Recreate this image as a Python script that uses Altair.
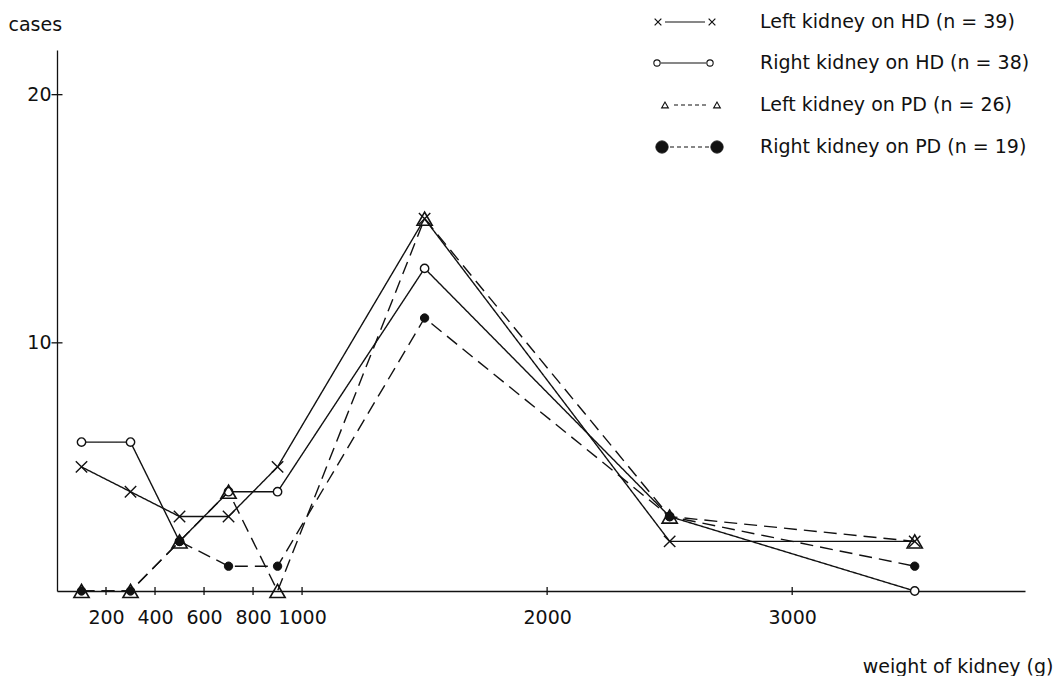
import altair as alt
import pandas as pd

# ---- data ----
weights = [100, 300, 500, 700, 900, 1500, 2500, 3500]
series = [
    "Left kidney on HD  (n = 39)",
    "Right kidney on HD  (n = 38)",
    "Left kidney on PD  (n = 26)",
    "Right kidney on PD  (n = 19)",
]
left_hd = [5, 4, 3, 3, 5, 15, 2, 2]
right_hd = [6, 6, 2, 4, 4, 13, 3, 0]
left_pd = [0, 0, 2, 4, 0, 15, 3, 2]
right_pd = [0, 0, 2, 1, 1, 11, 3, 1]
x_ticks = [200, 400, 600, 800, 1000, 2000, 3000]
y_ticks = [10, 20]

values = [left_hd, right_hd, left_pd, right_pd]
rows = []
for s, vals in zip(series, values):
    for w, v in zip(weights, vals):
        rows.append({"series": s, "weight": w, "cases": v})
df = pd.DataFrame(rows)
legend_df = pd.DataFrame({"series": series})
xt_df = pd.DataFrame({"weight": x_ticks})
yt_df = pd.DataFrame({"cases": y_ticks})

FONT = "DejaVu Sans"
FS = 19
INK = "#111111"

xscale = alt.Scale(domain=[0, 3950], nice=False, zero=True)
yscale = alt.Scale(domain=[0, 21.8], nice=False, zero=True)

X = alt.X(
    "weight:Q",
    scale=xscale,
    axis=alt.Axis(
        values=x_ticks,
        format="d",
        ticks=False,
        title="weight of kidney (g)",
        titleAlign="right",
        titleAnchor="start",
        titleX=996,
        titleY=81,
        titleBaseline="alphabetic",
        titleFontWeight="normal",
        titleFontSize=FS,
        labelFontSize=FS,
        labelPadding=17,
        labelFlush=False,
        labelOverlap=False,
    ),
)
Y = alt.Y(
    "cases:Q",
    scale=yscale,
    axis=alt.Axis(
        values=y_ticks,
        format="d",
        ticks=False,
        title="cases",
        titleAngle=0,
        titleAlign="left",
        titleAnchor="start",
        titleX=-49,
        titleY=-20,
        titleBaseline="alphabetic",
        titleFontWeight="normal",
        titleFontSize=FS,
        labelFontSize=FS,
        labelPadding=6,
    ),
)

styles = [
    ([1, 0], dict(shape="M-1,-1L1,1M-1,1L1,-1", filled=False, stroke=INK, strokeWidth=1.4, size=130)),
    ([1, 0], dict(shape="circle", filled=True, fill="white", stroke=INK, strokeWidth=1.4, size=70)),
    ([13, 7], dict(shape="triangle-up", filled=False, stroke=INK, strokeWidth=1.6, size=230)),
    ([13, 7], dict(shape="circle", filled=True, fill=INK, stroke=INK, strokeWidth=1, size=70)),
]

base = alt.Chart(df)
line_layers = []
point_layers = []
for s, (dash, pkw) in zip(series, styles):
    sub = base.transform_filter(alt.datum.series == s)
    line_layers.append(
        sub.mark_line(color=INK, strokeWidth=1.4, strokeDash=dash).encode(x=X, y=Y)
    )
    point_layers.append(sub.mark_point(opacity=1, **pkw).encode(x=X, y=Y))

# ticks crossing the axis lines
tick_layers = [
    alt.Chart(xt_df).mark_tick(orient="vertical", size=8, thickness=1.3, color=INK, opacity=1)
    .encode(x=alt.X("weight:Q", scale=xscale), y=alt.datum(0)),
    alt.Chart(yt_df).mark_tick(orient="horizontal", size=11, thickness=1.3, color=INK, opacity=1)
    .encode(y=alt.Y("cases:Q", scale=yscale), x=alt.datum(0)),
]

# ---- hand-drawn style legend (top right) ----
leg_rows_y = [-28, 13, 55, 97]
leg_sym = [
    (601, 655, 608, 648, [1, 0], dict(shape="M-1,-1L1,1M-1,1L1,-1", filled=False, stroke=INK, strokeWidth=1.2, size=45)),
    (600, 653, 604, 649, [1, 0], dict(shape="circle", filled=True, fill="white", stroke=INK, strokeWidth=1.1, size=40)),
    (608, 660, 617, 652, [4, 3], dict(shape="triangle-up", filled=False, stroke=INK, strokeWidth=1.1, size=45)),
    (605, 660, 613, 652, [4, 3], dict(shape="circle", filled=True, fill=INK, stroke=INK, strokeWidth=1, size=150)),
]
legend_layers = []
lbase = alt.Chart(legend_df)
for s, yy, (xa, xb, la, lb, dash, pkw) in zip(series, leg_rows_y, leg_sym):
    sub = lbase.transform_filter(alt.datum.series == s)
    legend_layers.append(
        sub.mark_rule(color=INK, strokeWidth=1.2, strokeDash=dash).encode(
            x=alt.value(la), x2=alt.value(lb), y=alt.value(yy)
        )
    )
    for xx in (xa, xb):
        legend_layers.append(
            sub.mark_point(opacity=1, **pkw).encode(x=alt.value(xx), y=alt.value(yy))
        )
    legend_layers.append(
        sub.mark_text(
            align="left", baseline="middle", font=FONT, fontSize=FS, color=INK
        ).encode(x=alt.value(703), y=alt.value(yy), text="series:N")
    )

chart = (
    alt.layer(*line_layers, *tick_layers, *point_layers, *legend_layers)
    .properties(
        width=968,
        height=541,
        autosize=alt.AutoSizeParams(type="none"),
        padding={"left": 49, "top": 42, "right": 30, "bottom": 85},
        background="white",
    )
    .configure_view(stroke=None)
    .configure_axis(
        grid=False,
        domainColor=INK,
        domainWidth=1.3,
        labelColor=INK,
        titleColor=INK,
        labelFont=FONT,
        titleFont=FONT,
    )
)

chart.save("out.html", embed_options={"renderer": "svg", "actions": False})
